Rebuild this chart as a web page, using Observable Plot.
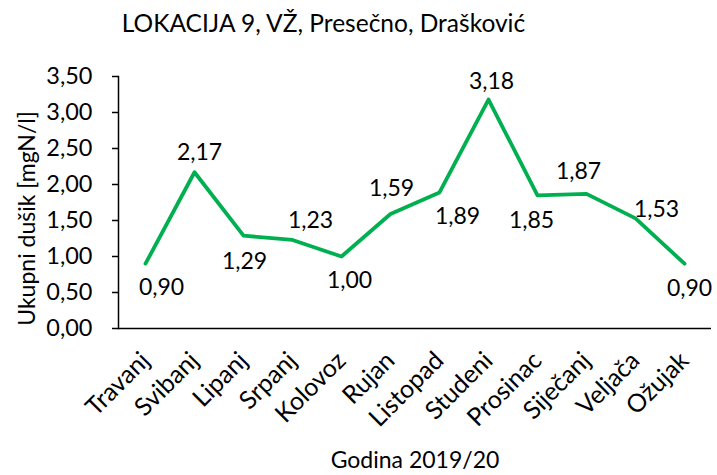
<!DOCTYPE html>
<html>
<head>
<meta charset="utf-8">
<script src="https://cdn.jsdelivr.net/npm/d3@7"></script>
<script src="https://cdn.jsdelivr.net/npm/@observablehq/plot@0.6"></script>
<style>
  html, body { margin: 0; padding: 0; background: #fff; }
  #title { width: 647px; height: 42px; padding-top: 8px; text-align: center; font-family: Lato, sans-serif; font-size: 24.5px; color: #000; line-height: normal; white-space: nowrap; }
</style>
</head>
<body>
<div id="title"></div>
<div id="chart"></div>
<script>
const titleText = "LOKACIJA 9, VŽ, Presečno, Drašković";
const yLabel = "Ukupni dušik [mgN/l]";
const xLabel = "Godina 2019/20";
const months = ["Travanj","Svibanj","Lipanj","Srpanj","Kolovoz","Rujan","Listopad","Studeni","Prosinac","Siječanj","Veljača","Ožujak"];
const values = [0.90, 2.17, 1.29, 1.23, 1.00, 1.59, 1.89, 3.18, 1.85, 1.87, 1.53, 0.90];
const yTicks = [0, 0.5, 1, 1.5, 2, 2.5, 3, 3.5];

document.getElementById("title").textContent = titleText;

const data = months.map((m, i) => ({month: m, value: values[i]}));
const fmt = d => d.toFixed(2).replace(".", ",");

// label placement offsets (dx, dy) relative to each point, as in the reference
const labelOffsets = [[16,24],[5,-20],[1,26],[18,-19],[8,24],[1,-25],[18,24],[3,-18],[-6,25],[-8,-22],[21,-9],[5,25]];

const chart = Plot.plot({
  width: 717,
  height: 425,
  marginLeft: 118,
  marginRight: 6,
  marginTop: 26,
  marginBottom: 147,
  style: {fontFamily: "Lato, sans-serif", fontSize: "23px", color: "#000", background: "#fff"},
  x: {type: "point", domain: months, padding: 0.5, axis: null},
  y: {domain: [0, 3.5], axis: null},
  marks: [
    Plot.frame({anchor: "left", stroke: "#000", strokeWidth: 1.5}),
    Plot.ruleY([0], {stroke: "#000", strokeWidth: 1.5}),
    Plot.axisY({ticks: yTicks, tickSize: 6, tickFormat: () => "", label: null, stroke: "#000", strokeWidth: 1.5}),
    Plot.text(yTicks, {y: d => d, frameAnchor: "left", textAnchor: "end", dx: -26, text: fmt, fontSize: 23.5, fill: "#000"}),
    Plot.axisX({tickRotate: -45, tickSize: 0, tickPadding: 28, label: null, fontSize: 25}),
    Plot.line(data, {x: "month", y: "value", stroke: "#00B050", strokeWidth: 3.8, strokeLinejoin: "round", strokeLinecap: "round"}),
    ...data.map((d, i) => Plot.text([d], {x: "month", y: "value", text: dd => fmt(dd.value), dx: labelOffsets[i][0], dy: labelOffsets[i][1], fill: "#000"})),
    Plot.text([yLabel], {frameAnchor: "left", dx: -91, dy: 16, rotate: -90, textAnchor: "middle", text: d => d, fill: "#000"}),
    Plot.text([xLabel], {frameAnchor: "bottom", dy: 139, text: d => d, fill: "#000"})
  ]
});
document.getElementById("chart").appendChild(chart);
</script>
</body>
</html>
